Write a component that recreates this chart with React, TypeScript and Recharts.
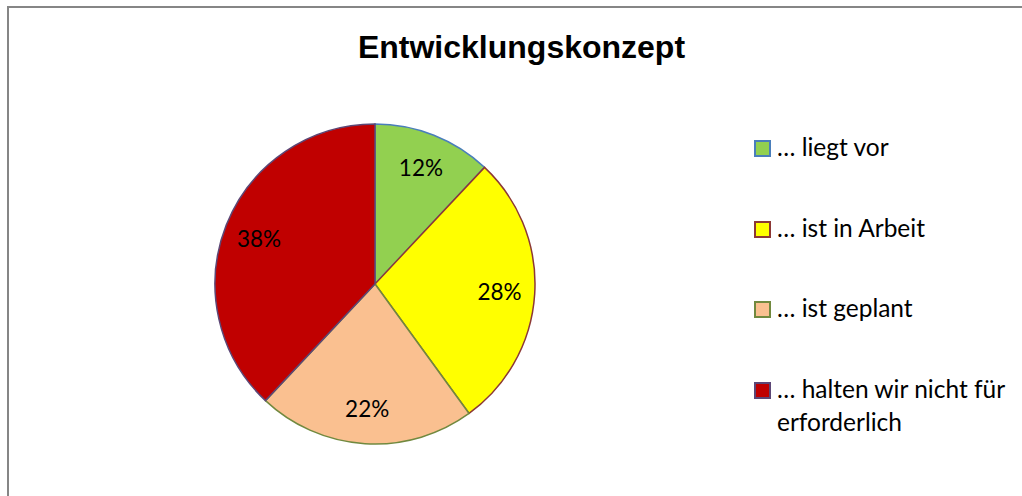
import React from "react";
import { PieChart, Pie, Cell, Legend } from "recharts";

const categories = ["… liegt vor", "… ist in Arbeit", "… ist geplant", "… halten wir nicht für erforderlich"];
const values = [12, 28, 22, 38];
const fills = ["#92D050", "#FFFF00", "#FAC090", "#C00000"];
const strokes = ["#4A7EBB", "#8C3836", "#71893F", "#5C4776"];
const title = "Entwicklungskonzept";

const data = categories.map((name, i) => ({ name, value: values[i] }));
const total = values.reduce((a, b) => a + b, 0);

const labelFont = "Lato, 'Open Sans', sans-serif";

const RADIAN = Math.PI / 180;
const renderLabel = (props: any) => {
  const { cx, cy, midAngle, outerRadius, value } = props;
  const r = outerRadius * 0.78;
  const x = cx + r * Math.cos(-midAngle * RADIAN);
  const y = cy + r * Math.sin(-midAngle * RADIAN);
  return (
    <text x={x} y={y} fill="#000" textAnchor="middle" dominantBaseline="central" fontSize={22.5} fontFamily={labelFont}>
      {`${Math.round((value / total) * 100)}%`}
    </text>
  );
};

const renderLegend = () => (
  <div style={{ fontFamily: labelFont, fontSize: 24.5, color: "#000" }}>
    {categories.map((c, i) => (
      <div key={c} style={{ display: "flex", alignItems: "flex-start", height: 80.5 }}>
        <div
          style={{
            width: 13,
            height: 13,
            background: fills[i],
            border: `2px solid ${strokes[i]}`,
            marginTop: 1,
            marginRight: 6,
            flex: "none",
          }}
        />
        <div style={{ width: 250, lineHeight: "33px", marginTop: -9 }}>{c}</div>
      </div>
    ))}
  </div>
);

export default function App() {
  return (
    <div style={{ position: "absolute", left: 0, top: 0, width: 1022, height: 496, background: "#fff", overflow: "hidden" }}>
      <div
        style={{
          position: "absolute",
          left: 7,
          top: 6,
          width: 1040,
          height: 520,
          border: "2px solid #868686",
          boxSizing: "border-box",
        }}
      />
      <div
        style={{
          position: "absolute",
          left: 0,
          top: 27,
          width: 1043,
          textAlign: "center",
          fontFamily: "'Liberation Sans', Arial, sans-serif",
          fontWeight: "bold",
          fontSize: 32,
          lineHeight: "40px",
          color: "#000",
        }}
      >
        {title}
      </div>
      <div style={{ position: "absolute", left: 0, top: 0 }}>
        <PieChart width={1022} height={496}>
          <Pie
            data={data}
            dataKey="value"
            nameKey="name"
            cx={370}
            cy={279}
            outerRadius={160}
            startAngle={90}
            endAngle={-270}
            isAnimationActive={false}
            label={renderLabel}
            labelLine={false}
          >
            {data.map((d, i) => (
              <Cell key={d.name} fill={fills[i]} stroke={strokes[i]} strokeWidth={1.5} />
            ))}
          </Pie>
          <Legend
            layout="vertical"
            content={renderLegend}
            wrapperStyle={{ position: "absolute", left: 754, top: 139, width: 268 }}
          />
        </PieChart>
      </div>
    </div>
  );
}
